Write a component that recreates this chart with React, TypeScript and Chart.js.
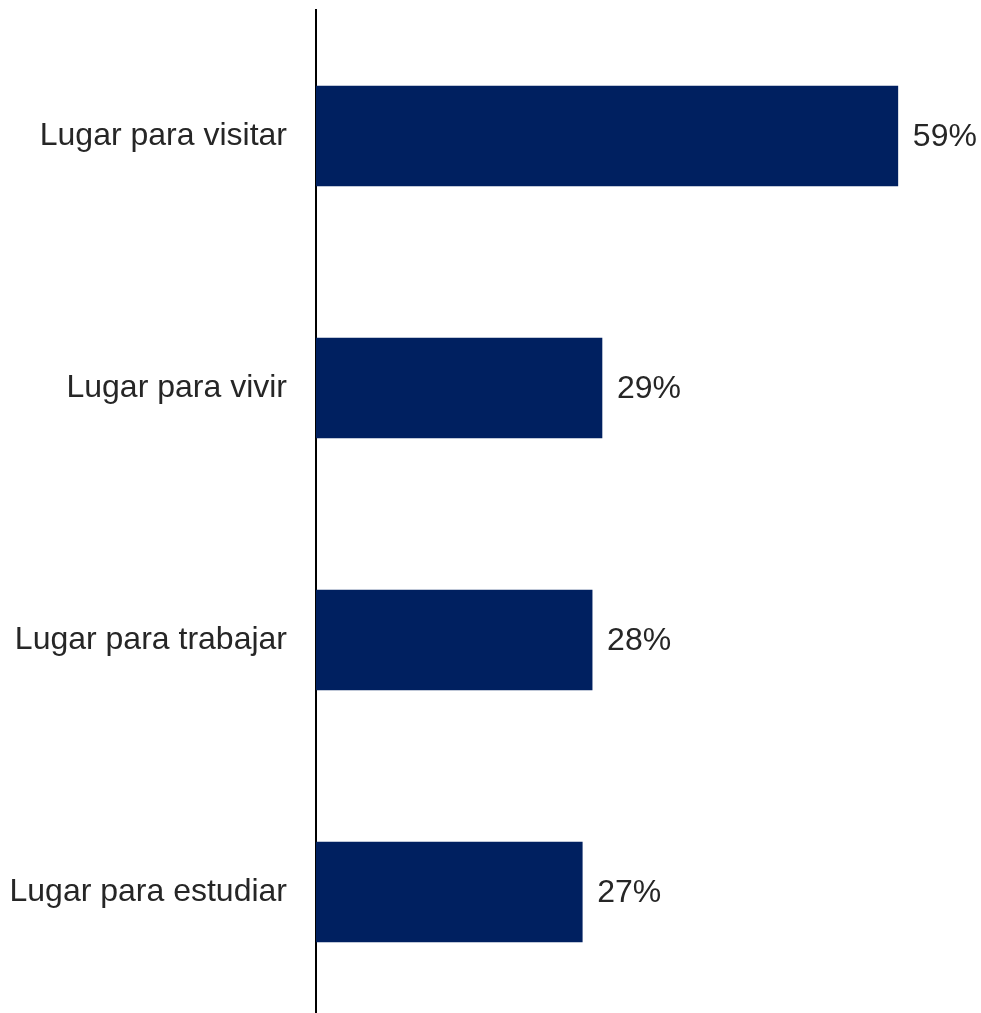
import React, { useEffect, useRef } from "react";
import { Chart, registerables } from "chart.js";

Chart.register(...registerables);

const categories = ["Lugar para visitar", "Lugar para vivir", "Lugar para trabajar", "Lugar para estudiar"];
const values = [59, 29, 28, 27];
const valueLabels = ["59%", "29%", "28%", "27%"];

const FONT = "'Liberation Sans', Arial, Helvetica, sans-serif";
const TEXT = "#262626";

const valueLabelPlugin = {
  id: "valueLabels",
  afterDatasetsDraw(chart: any) {
    const ctx = chart.ctx;
    const meta = chart.getDatasetMeta(0);
    ctx.save();
    ctx.font = `32px ${FONT}`;
    ctx.fillStyle = TEXT;
    ctx.textAlign = "left";
    ctx.textBaseline = "middle";
    meta.data.forEach((bar: any, i: number) => {
      ctx.fillText(valueLabels[i], bar.x + 15, bar.y + 1);
    });
    ctx.restore();
  },
};

export default function App() {
  const ref = useRef<HTMLCanvasElement | null>(null);
  useEffect(() => {
    if (!ref.current) return;
    const chart = new Chart(ref.current, {
      type: "bar",
      data: {
        labels: categories,
        datasets: [
          {
            data: values,
            backgroundColor: "#002060",
            borderWidth: 0,
            barThickness: 100,
          },
        ],
      },
      options: {
        indexAxis: "y",
        responsive: false,
        animation: false,
        devicePixelRatio: 1,
        layout: { padding: { top: 10, right: 24, bottom: 0, left: 0 } },
        plugins: { legend: { display: false }, tooltip: { enabled: false } },
        scales: {
          x: {
            display: false,
            min: 0,
            max: 65,
          },
          y: {
            grid: { display: false, drawTicks: false },
            border: { display: true, color: "#000000", width: 2 },
            ticks: {
              color: TEXT,
              font: { family: FONT, size: 32 },
              padding: 29,
            },
            afterFit(scale: any) {
              scale.width = 316;
              scale.paddingTop = 0;
              scale.paddingBottom = 0;
            },
          },
        },
      },
      plugins: [valueLabelPlugin],
    });
    return () => chart.destroy();
  }, []);
  return (
    <div style={{ position: "fixed", top: 0, left: 0, width: 981, height: 1013, overflow: "hidden", background: "#fff" }}>
      <canvas ref={ref} width={981} height={1018} style={{ display: "block" }} />
    </div>
  );
}
